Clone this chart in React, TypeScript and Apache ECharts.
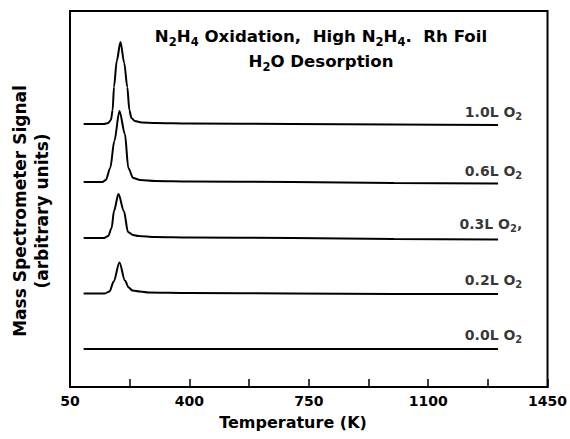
import React, { useEffect, useRef } from "react";
import * as echarts from "echarts";

// Temperature axis (K)
const xMin = 50;
const xMax = 1450;
const tickValues = [50, 225, 400, 575, 750, 925, 1100, 1275, 1450];
const tickLabels = [50, 400, 750, 1100, 1450];

// Exposure labels (top to bottom) and vertical offsets of each trace (arbitrary units)
const exposures = ["1.0L", "0.6L", "0.3L", "0.2L", "0.0L"];
const offsets = [263, 205, 149, 93.5, 38];
const labelY = [275, 216, 163, 107, 52];
const labelX = 1376;

// H2O desorption signal for each exposure: [temperature K, signal above baseline]
const trace10: [number, number][] = [
  [90, 0], [150, 0], [162, 1], [170, 4], [175, 14], [179, 37], [187, 63], [198, 82],
  [209, 61], [218, 37], [224, 14], [230, 6], [240, 3], [260, 1.5], [300, 1], [400, 0.5],
  [700, 0], [1000, -0.5], [1305, -1],
];
const trace06: [number, number][] = [
  [90, 0], [145, 0], [155, 2], [168, 14], [180, 41], [195, 71], [211, 48], [221, 14],
  [235, 4], [256, 2], [300, 1], [400, 0.5], [700, 0], [1000, -1], [1305, -1.5],
];
const trace03: [number, number][] = [
  [90, 0], [150, 0], [162, 2], [172, 10], [179, 27], [192, 44], [208, 27], [220, 6],
  [235, 3], [250, 2], [300, 1], [400, 0.5], [700, 0], [1000, -1], [1305, -1.5],
];
const trace02: [number, number][] = [
  [90, 0], [152, 0], [166, 2], [178, 12], [195, 31], [211, 13], [222, 6], [233, 3],
  [255, 2], [280, 1], [400, 0.5], [700, 0], [1000, -0.5], [1305, -0.5],
];
const trace00: [number, number][] = [
  [90, 0], [400, 0], [700, 0], [1000, 0], [1305, 0],
];
const traces = [trace10, trace06, trace03, trace02, trace00];

const FONT = "DejaVu Sans";

export default function App() {
  const ref = useRef<HTMLDivElement>(null);
  useEffect(() => {
    document.body.style.margin = "0";
    if (!ref.current) return;
    const chart = echarts.init(ref.current, null, { renderer: "svg" });
    const lineSeries = traces.map((tr, i) => ({
      type: "line",
      data: tr.map(([t, v]) => [t, v + offsets[i]]),
      showSymbol: false,
      symbol: "none",
      smooth: 0.3,
      smoothMonotone: "x",
      lineStyle: { color: "#000", width: 2 },
      silent: true,
    }));
    const labelSeries = {
      type: "scatter",
      symbolSize: 0,
      silent: true,
      data: exposures.map((e, i) => [labelX, labelY[i], e]),
      label: {
        show: true,
        position: "left",
        distance: 0,
        color: "#000",
        fontFamily: FONT,
        fontWeight: "bold",
        fontSize: 14,
        formatter: (p: any) => {
          const e = p.data[2];
          return `{a|${e} O}{s|2}` + (e === "0.3L" ? "{a|,}" : "");
        },
        rich: {
          a: { fontFamily: FONT, fontWeight: "bold", fontSize: 14, color: "#000" },
          s: { fontFamily: FONT, fontWeight: "bold", fontSize: 10, color: "#000", padding: [9, 0, 0, 0] },
        },
      },
    };
    const titleRich = {
      a: { fontFamily: FONT, fontWeight: "bold", fontSize: 16.6, color: "#000", lineHeight: 25 },
      s: { fontFamily: FONT, fontWeight: "bold", fontSize: 11.5, color: "#000", lineHeight: 25, padding: [10, 0, 0, 0] },
    };
    chart.setOption({
      animation: false,
      backgroundColor: "#fff",
      title: {
        text:
          "{a|N}{s|2}{a|H}{s|4}{a| Oxidation,  High N}{s|2}{a|H}{s|4}{a|.  Rh Foil}\n{a|H}{s|2}{a|O Desorption}",
        left: 316,
        top: 19,
        textAlign: "center",
        textStyle: { fontWeight: "bold", fontFamily: FONT, rich: titleRich },
      },
      grid: {
        left: 70,
        right: 18,
        top: 11,
        bottom: 52,
        show: true,
        borderColor: "#000",
        borderWidth: 2,
        backgroundColor: "transparent",
      },
      xAxis: {
        type: "value",
        min: xMin,
        max: xMax,
        splitLine: { show: false },
        axisLine: { show: true, lineStyle: { color: "#000", width: 2 } },
        axisTick: {
          show: true,
          inside: true,
          length: 8,
          customValues: tickValues,
          lineStyle: { color: "#000", width: 1.5 },
        },
        axisLabel: {
          customValues: tickLabels,
          formatter: (v: number) => String(v),
          margin: 7,
          fontFamily: FONT,
          fontWeight: "bold",
          fontSize: 14,
          color: "#000",
        },
      },
      yAxis: {
        type: "value",
        min: 0,
        max: 376,
        show: false,
      },
      graphic: [
        {
          type: "text",
          x: 20,
          y: 211,
          rotation: Math.PI / 2,
          style: {
            text: "Mass Spectrometer Signal",
            fontFamily: FONT,
            fontWeight: "bold",
            fontSize: 17,
            fill: "#000",
            textAlign: "center",
            textVerticalAlign: "middle",
          },
        },
        {
          type: "text",
          x: 42,
          y: 211,
          rotation: Math.PI / 2,
          style: {
            text: "(arbitrary units)",
            fontFamily: FONT,
            fontWeight: "bold",
            fontSize: 17,
            fill: "#000",
            textAlign: "center",
            textVerticalAlign: "middle",
          },
        },
        {
          type: "text",
          x: 293,
          y: 422,
          style: {
            text: "Temperature (K)",
            fontFamily: FONT,
            fontWeight: "bold",
            fontSize: 16,
            fill: "#000",
            textAlign: "center",
            textVerticalAlign: "middle",
          },
        },
      ],
      series: [...lineSeries, labelSeries],
    });
    return () => chart.dispose();
  }, []);
  return <div ref={ref} style={{ width: 570, height: 439 }} />;
}
